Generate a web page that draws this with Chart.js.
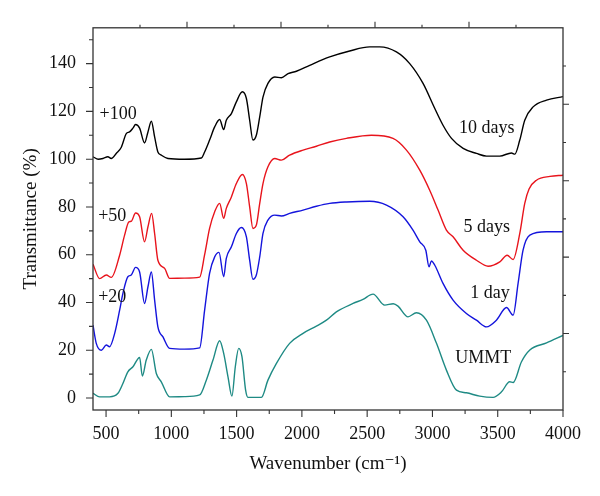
<!DOCTYPE html>
<html>
<head>
<meta charset="utf-8">
<script src="https://cdn.jsdelivr.net/npm/chart.js@4"></script>
<style>
  html, body { margin: 0; padding: 0; background: #fff; }
  #wrap { width: 600px; height: 496px; }
</style>
</head>
<body>
<div id="wrap"><canvas id="irChart" width="600" height="496"></canvas></div>
<script>
// tick labels
var xTicks = [500, 1000, 1500, 2000, 2500, 3000, 3500, 4000];
var yTicks = [0, 20, 40, 60, 80, 100, 120, 140];
var xMinor = [750, 1250, 1750, 2250, 2750, 3250, 3750];
var yMinor = [10, 30, 50, 70, 90, 110, 130, 150];

// UMMT (no offset)
var ummtWn = [400, 451, 527, 591, 629, 667, 706, 757, 778, 808, 847, 885, 923, 987, 1100, 1217, 1268, 1319, 1370, 1401, 1434, 1464, 1490, 1516, 1541, 1569, 1587, 1690, 1740, 1805, 1906, 2009, 2111, 2188, 2264, 2392, 2468, 2545, 2634, 2700, 2736, 2813, 2877, 2954, 3031, 3107, 3184, 3260, 3362, 3464, 3529, 3592, 3618, 3682, 3746, 3874, 4000];
var ummtT = [2, 0.5, 0.5, 2, 6.1, 11, 13.1, 17, 9.2, 15.9, 20.4, 10.3, 6.8, 0.5, 0.6, 1.3, 7.5, 15.9, 24, 18.7, 8.9, 0.8, 13.1, 20.8, 17.3, 3.3, 0.3, 0.3, 7.5, 14.5, 22.9, 27.1, 30.1, 32.6, 36.1, 39.6, 41.3, 43.5, 38.9, 39.5, 38.5, 34, 35.7, 32.6, 22.9, 11.7, 3.3, 2.2, 0.8, 0.3, 2.6, 6.8, 6.5, 15.2, 20.1, 23.1, 26.2];

// 1 day (+20)
var day1Wn = [400, 425, 464, 502, 527, 566, 604, 629, 667, 693, 726, 757, 795, 821, 847, 872, 897, 936, 987, 1100, 1217, 1255, 1293, 1332, 1365, 1401, 1421, 1460, 1498, 1536, 1575, 1600, 1625, 1651, 1677, 1702, 1740, 1792, 1843, 1906, 2009, 2111, 2213, 2341, 2520, 2648, 2775, 2851, 2903, 2949, 2974, 2992, 3018, 3081, 3158, 3260, 3337, 3414, 3490, 3567, 3618, 3656, 3694, 3746, 3874, 4000];
var day1T = [30.5, 22.9, 20, 22.2, 21.5, 27.1, 36.8, 43.8, 50.8, 51.5, 54.7, 52.8, 39.6, 46.6, 52.8, 41, 29.8, 25.6, 20.8, 20.5, 21, 36.8, 52.2, 59.1, 61, 50.8, 58.5, 63.3, 68.9, 71.4, 67.5, 57.7, 49.7, 51.5, 59.1, 68.9, 74.5, 76.6, 76.2, 77.3, 78.7, 80.3, 81.5, 82.1, 82.4, 80.8, 75.9, 70.3, 65.4, 61.9, 54.9, 57.4, 55.6, 48, 41, 35.4, 32.6, 29.8, 32.6, 37.9, 34.7, 48, 61.9, 68.2, 69.6, 69.6];

// 5 days (+50)
var day5Wn = [400, 451, 502, 540, 604, 642, 675, 693, 726, 757, 795, 821, 849, 872, 897, 949, 987, 1100, 1217, 1255, 1293, 1332, 1370, 1401, 1421, 1460, 1498, 1544, 1575, 1600, 1625, 1651, 1677, 1702, 1740, 1792, 1843, 1906, 2009, 2111, 2213, 2341, 2533, 2698, 2801, 2903, 2979, 3043, 3107, 3158, 3235, 3337, 3426, 3516, 3572, 3618, 3669, 3707, 3740, 3797, 3900, 4000];
var day5T = [56, 50, 51.5, 50.5, 59.8, 68.2, 73.8, 74, 77.5, 75.9, 65.4, 71.7, 77.3, 68.9, 57.7, 54.3, 50.1, 50.2, 50.6, 60, 71, 78, 81.5, 75.2, 79.4, 84.2, 89.8, 93.6, 89.8, 80, 71, 72.4, 81.5, 89.8, 96.8, 100.3, 99.6, 101.7, 103.8, 105.4, 107.2, 108.7, 110, 108.7, 103.8, 95.4, 87, 78.7, 70.3, 67.5, 61.9, 57.7, 55.2, 57, 59.8, 58, 68.9, 81.5, 87.5, 91.2, 92.8, 93.3];

// 10 days (+100)
var day10Wn = [400, 440, 476, 514, 540, 578, 617, 655, 680, 706, 726, 757, 795, 821, 847, 872, 897, 923, 974, 1100, 1230, 1255, 1293, 1332, 1370, 1401, 1421, 1460, 1498, 1544, 1575, 1600, 1625, 1651, 1677, 1702, 1740, 1792, 1843, 1894, 1958, 2060, 2213, 2366, 2519, 2596, 2724, 2826, 2928, 3018, 3081, 3146, 3235, 3337, 3414, 3516, 3605, 3631, 3669, 3707, 3771, 3874, 4000];
var day10T = [101, 100, 100.3, 101, 100.3, 102.4, 105, 110.7, 111.4, 113, 114.5, 113, 106.8, 111.4, 115.9, 109.3, 103, 101.7, 100.3, 100, 100.5, 103, 108, 113.5, 116.6, 112.4, 116.3, 119.1, 124, 128.2, 125.4, 116.3, 108, 110, 117.7, 126, 131.7, 134.4, 134.1, 135.8, 136.8, 139.3, 142.8, 145.3, 147, 147, 144.9, 140, 131.7, 121.2, 114.2, 108.7, 104.5, 102.4, 101.3, 101.3, 102.6, 102.1, 108, 116.3, 121.9, 124.7, 126.2];

// text labels on the plot [text, wavenumber, transmittance, align]
var notes = [
    ['+100', 450, 119, 'left'],
    ['+50', 440, 76, 'left'],
    ['+20', 440, 42, 'left'],
    ['10 days', 3416, 113, 'center'],
    ['5 days', 3416, 71.5, 'center'],
    ['1 day', 3440, 44, 'center'],
    ['UMMT', 3390, 16.7, 'center']
];

var serif = '"Liberation Serif", "DejaVu Serif", serif';

function pairs(xs, ys) {
    return xs.map(function(v, i) { return { x: v, y: ys[i] }; });
}

function line(data, color) {
    return {
        data: data,
        borderColor: color,
        borderWidth: 1.4,
        pointRadius: 0,
        fill: false,
        cubicInterpolationMode: 'monotone'
    };
}

// frame, tick marks and notes
var framePlugin = {
    id: 'frame',
    afterDraw: function(chart) {
        var ctx = chart.ctx;
        var a = chart.chartArea;
        var x = chart.scales.x, y = chart.scales.y;
        ctx.save();
        ctx.strokeStyle = '#333';
        ctx.lineWidth = 1.3;
        ctx.strokeRect(a.left, a.top, a.right - a.left, a.bottom - a.top);
        ctx.lineWidth = 1.1;
        ctx.beginPath();
        xTicks.forEach(function(v) {
            var p = x.getPixelForValue(v);
            ctx.moveTo(p, a.bottom); ctx.lineTo(p, a.bottom + 7);
        });
        xMinor.forEach(function(v) {
            var p = x.getPixelForValue(v);
            ctx.moveTo(p, a.bottom); ctx.lineTo(p, a.bottom + 4);
        });
        yTicks.forEach(function(v) {
            var p = y.getPixelForValue(v);
            ctx.moveTo(a.left, p); ctx.lineTo(a.left - 7, p);
        });
        yMinor.forEach(function(v) {
            var p = y.getPixelForValue(v);
            ctx.moveTo(a.left, p); ctx.lineTo(a.left - 4, p);
        });
        // top and right axes: 10 divisions, no labels
        for (var i = 1; i < 10; i++) {
            var len = (i % 2 === 0) ? 6 : 3;
            var px = a.left + (a.right - a.left) * i / 10;
            ctx.moveTo(px, a.top); ctx.lineTo(px, a.top - len);
            var py = a.bottom - (a.bottom - a.top) * i / 10;
            ctx.moveTo(a.right, py); ctx.lineTo(a.right + len, py);
        }
        ctx.stroke();

        ctx.fillStyle = '#111';
        ctx.font = '18px ' + serif;
        ctx.textBaseline = 'middle';
        notes.forEach(function(n) {
            ctx.textAlign = n[3];
            ctx.fillText(n[0], x.getPixelForValue(n[1]), y.getPixelForValue(n[2]));
        });
        ctx.restore();
    }
};

var ctx = document.getElementById('irChart').getContext('2d');
var irChart = new Chart(ctx, {
    type: 'line',
    data: {
        datasets: [
            line(pairs(day10Wn, day10T), '#000000'),
            line(pairs(day5Wn, day5T), '#e8141c'),
            line(pairs(day1Wn, day1T), '#1414dc'),
            line(pairs(ummtWn, ummtT), '#1e8a84')
        ]
    },
    options: {
        responsive: false,
        animation: false,
        layout: { padding: { top: 27, right: 37, left: 0, bottom: 0 } },
        plugins: { legend: { display: false }, tooltip: { enabled: false } },
        scales: {
            x: {
                type: 'linear',
                min: 400,
                max: 4000,
                grid: { display: false, drawTicks: false },
                border: { display: false },
                afterBuildTicks: function(s) { s.ticks = xTicks.map(function(v) { return { value: v }; }); },
                afterFit: function(s) { s.height = 86; },
                ticks: {
                    color: '#111', padding: 13, maxRotation: 0,
                    font: { family: serif, size: 18 },
                    callback: function(v) { return String(v); }
                },
                title: {
                    display: true,
                    text: 'Wavenumber (cm\u207B\u00B9)',
                    color: '#111',
                    font: { family: serif, size: 19 },
                    padding: { top: 0, bottom: 21 }
                }
            },
            y: {
                type: 'linear',
                min: -5,
                max: 155,
                grid: { display: false, drawTicks: false },
                border: { display: false },
                afterBuildTicks: function(s) { s.ticks = yTicks.map(function(v) { return { value: v }; }); },
                afterFit: function(s) { s.width = 93; },
                ticks: {
                    color: '#111', padding: 17,
                    font: { family: serif, size: 18 },
                    callback: function(v) { return String(v); }
                },
                title: {
                    display: true,
                    text: 'Transmittance (%)',
                    color: '#111',
                    font: { family: serif, size: 19 },
                    padding: { top: 20, bottom: 0 }
                }
            }
        }
    },
    plugins: [framePlugin]
});
</script>
</body>
</html>
